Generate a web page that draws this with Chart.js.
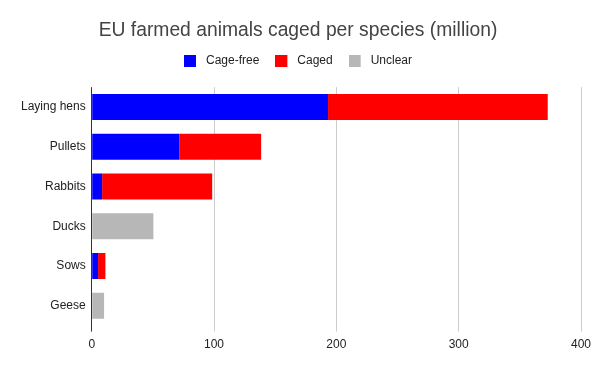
<!DOCTYPE html>
<html>
<head>
<meta charset="utf-8">
<script src="https://cdn.jsdelivr.net/npm/chart.js@4"></script>
<style>
  html, body { margin: 0; padding: 0; background: #fff; }
  #wrap { width: 600px; height: 371px; }
</style>
</head>
<body>
<div id="wrap"><canvas id="myChart"></canvas></div>
<script>
const species = ["Laying hens", "Pullets", "Rabbits", "Ducks", "Sows", "Geese"];
const cageFree = [193.2, 71.6, 8.5, 0, 5.2, 0];
const caged = [179.6, 66.9, 90, 0, 6, 0];
const unclear = [0, 0, 0, 50.4, 0, 10.1];
const xTicks = [0, 100, 200, 300, 400];
const colors = ["#0000ff", "#ff0000", "#b7b7b7"];

Chart.defaults.font.family = "'Liberation Sans', Arial, sans-serif";
Chart.defaults.color = "#222";

// legend swatch: 12px square with some blank space on its right
const swatch = function (color) {
    const c = document.createElement("canvas");
    c.width = 16;
    c.height = 12;
    const g = c.getContext("2d");
    g.fillStyle = color;
    g.fillRect(0, 0, 12, 12);
    return c;
};
const swatches = colors.map(swatch);

const legendGap = {
    id: "legendGap",
    beforeInit(chart) {
        const fit = chart.legend.fit;
        chart.legend.fit = function () {
            fit.bind(chart.legend)();
            this.height += 10;
        };
    },
};

const ctx = document.getElementById("myChart");

new Chart(ctx, {
    type: "bar",
    data: {
        labels: species,
        datasets: [
            { label: "Cage-free", data: cageFree, backgroundColor: colors[0] },
            { label: "Caged", data: caged, backgroundColor: colors[1] },
            { label: "Unclear", data: unclear, backgroundColor: colors[2] },
        ],
    },
    options: {
        indexAxis: "y",
        responsive: true,
        maintainAspectRatio: false,
        animation: false,
        barPercentage: 0.65,
        categoryPercentage: 1,
        layout: { padding: { left: 15, right: 19, top: 0, bottom: 13 } },
        plugins: {
            title: {
                display: true,
                text: "EU farmed animals caged per species (million)",
                font: { size: 19.3, weight: "normal" },
                color: "#444",
                padding: { top: 19, bottom: -3 },
            },
            legend: {
                labels: {
                    usePointStyle: true,
                    pointStyleWidth: 16,
                    boxHeight: 12,
                    font: { size: 12 },
                    padding: 16,
                    generateLabels: (chart) => {
                        const items = Chart.defaults.plugins.legend.labels.generateLabels(chart);
                        items.forEach((it, i) => { it.pointStyle = swatches[i]; });
                        return items;
                    },
                },
            },
            tooltip: { enabled: false },
        },
        scales: {
            x: {
                stacked: true,
                min: 0,
                max: 400,
                afterBuildTicks: (axis) => {
                    axis.ticks = xTicks.map((v) => ({ value: v }));
                },
                grid: {
                    color: (c) => (c.tick && c.tick.value === 0 ? "#333" : "#ccc"),
                    tickLength: 6,
                },
                border: { display: false },
                ticks: { font: { size: 12 }, padding: 6 },
            },
            y: {
                stacked: true,
                grid: { display: false, drawTicks: false },
                border: { display: false },
                ticks: { font: { size: 12 }, padding: 6 },
            },
        },
    },
    plugins: [legendGap],
});
</script>
</body>
</html>
